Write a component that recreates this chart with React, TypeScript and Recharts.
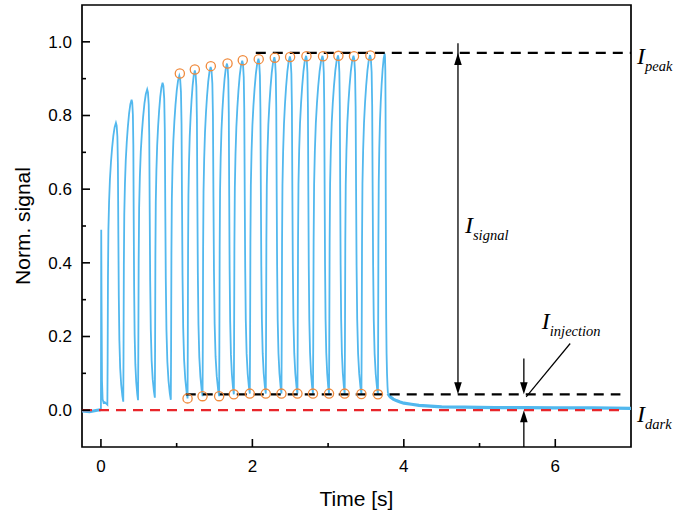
import React from 'react';
import {
  ComposedChart,
  Line,
  Scatter,
  XAxis,
  YAxis,
  ReferenceLine,
  ReferenceDot,
  ReferenceArea,
} from 'recharts';

// pulse maxima and the minima just before each pulse
const PEAK_T = [0.198, 0.405, 0.611, 0.814, 1.035, 1.24, 1.449, 1.664, 1.866, 2.08, 2.29, 2.495, 2.709, 2.926, 3.131, 3.335, 3.554, 3.747];
const PEAK_V = [0.78, 0.843, 0.871, 0.889, 0.908, 0.922, 0.932, 0.941, 0.949, 0.954, 0.958, 0.96, 0.962, 0.962, 0.963, 0.962, 0.964, 0.968];
const TROUGH_T = [0.085, 0.295, 0.49, 0.712, 0.923, 1.144, 1.342, 1.561, 1.755, 1.966, 2.177, 2.384, 2.595, 2.8, 3.012, 3.219, 3.44, 3.658];
const TROUGH_V = [0.015, 0.023, 0.027, 0.034, 0.028, 0.032, 0.038, 0.038, 0.043, 0.045, 0.045, 0.045, 0.045, 0.045, 0.045, 0.045, 0.044, 0.043];

// shape of one pulse: fraction of the interval / fraction of the swing
const RISE_F = [0, 0.03, 0.07, 0.12, 0.2, 0.3, 0.42, 0.55, 0.7, 0.85, 1];
const RISE_L = [0, 0.15, 0.45, 0.62, 0.72, 0.8, 0.86, 0.91, 0.955, 0.985, 1];
const FALL_F = [0, 0.1, 0.2, 0.27, 0.33, 0.39, 0.47, 0.58, 0.72, 0.88, 1];
const FALL_L = [1, 0.99, 0.95, 0.85, 0.6, 0.38, 0.22, 0.12, 0.06, 0.02, 0];

// before the first pulse and the decay after the last one
const PRE_T = [-0.25, -0.15, -0.05, 0];
const PRE_V = [-0.002, -0.004, 0.0, 0.001];
const START_T = [0, 0.004, 0.008, 0.014, 0.022, 0.035, 0.05, 0.07];
const START_V = [0.001, 0.49, 0.3, 0.08, 0.03, 0.02, 0.022, 0.018];
const TAIL_T = [3.79, 3.82, 3.86, 3.9, 3.95, 4.0, 4.1, 4.2, 4.35, 4.5, 4.8, 5.2, 5.6, 6.0, 6.5, 7.0];
const TAIL_V = [0.045, 0.036, 0.03, 0.026, 0.022, 0.019, 0.016, 0.013, 0.011, 0.009, 0.008, 0.007, 0.007, 0.006, 0.006, 0.005];

// fitted peak / injection points
const TOP_CIRCLE_T = [1.042, 1.24, 1.451, 1.672, 1.873, 2.084, 2.296, 2.498, 2.714, 2.933, 3.136, 3.342, 3.558];
const TOP_CIRCLE_V = [0.914, 0.925, 0.934, 0.941, 0.95, 0.953, 0.957, 0.959, 0.961, 0.961, 0.962, 0.961, 0.963];
const BOTTOM_CIRCLE_T = [1.144, 1.342, 1.561, 1.755, 1.966, 2.177, 2.384, 2.595, 2.8, 3.012, 3.219, 3.44, 3.658];
const BOTTOM_CIRCLE_V = [0.032, 0.038, 0.038, 0.043, 0.045, 0.045, 0.045, 0.045, 0.045, 0.045, 0.045, 0.044, 0.043];

const I_PEAK = 0.97;
const I_INJ = 0.043;
const I_DARK = 0;

const X_TICKS = [0, 1, 2, 3, 4, 5, 6];
const Y_TICKS = [0, 0.1, 0.2, 0.3, 0.4, 0.5, 0.6, 0.7, 0.8, 0.9, 1.0];

const BLUE = '#52b8ee';
const ORANGE = '#f08a3c';
const RED = '#e8262b';
const SANS = "'Liberation Sans', Arial, sans-serif";
const SERIF = "'Liberation Serif', 'DejaVu Serif', serif";

const zip = (ts: number[], vs: number[]) => ts.map((t, i) => ({ t, v: vs[i] }));

const trace: { t: number; v: number }[] = zip(START_T, START_V);
PEAK_T.forEach((pt, i) => {
  const t0 = TROUGH_T[i];
  const v0 = TROUGH_V[i];
  const pv = PEAK_V[i];
  RISE_F.forEach((f, k) => trace.push({ t: t0 + f * (pt - t0), v: v0 + RISE_L[k] * (pv - v0) }));
  const t1 = i < PEAK_T.length - 1 ? TROUGH_T[i + 1] : TAIL_T[0];
  const v1 = i < PEAK_T.length - 1 ? TROUGH_V[i + 1] : TAIL_V[0];
  FALL_F.slice(1, -1).forEach((f, k) =>
    trace.push({ t: pt + f * (t1 - pt), v: v1 + FALL_L[k + 1] * (pv - v1) })
  );
});
trace.push({ t: TAIL_T[0], v: TAIL_V[0] });

const pre = zip(PRE_T, PRE_V);
const tail = zip(TAIL_T, TAIL_V);
const topCircles = zip(TOP_CIRCLE_T, TOP_CIRCLE_V);
const bottomCircles = zip(BOTTOM_CIRCLE_T, BOTTOM_CIRCLE_V);
const peakLine = [{ t: 2.045, v: I_PEAK }, { t: 7, v: I_PEAK }];
const injLine = [{ t: 1.12, v: I_INJ }, { t: 6.86, v: I_INJ }];
const darkLine = [{ t: -0.25, v: I_DARK }, { t: 6.86, v: I_DARK }];

const GAP = 10;

const XTick = (props: any) => {
  const { x, y, payload } = props;
  const ay = y - GAP;
  const major = payload.value % 2 === 0;
  return (
    <g>
      <line x1={x} x2={x} y1={ay} y2={ay - (major ? 8 : 4)} stroke="#000" strokeWidth={1.6} />
      {major && (
        <text x={x} y={ay + 25} textAnchor="middle" fontSize={17} fontFamily={SANS} fill="#000">
          {payload.value}
        </text>
      )}
    </g>
  );
};

const YTick = (props: any) => {
  const { x, y, payload } = props;
  const ax = x + GAP;
  const major = Math.round(payload.value * 10) % 2 === 0;
  return (
    <g>
      <line x1={ax} x2={ax + (major ? 8 : 4)} y1={y} y2={y} stroke="#000" strokeWidth={1.6} />
      {major && (
        <text x={x} y={y} dy="0.35em" textAnchor="end" fontSize={17} fontFamily={SANS} fill="#000">
          {payload.value.toFixed(1)}
        </text>
      )}
    </g>
  );
};

const Sym = ({ x, y, sub }: { x: number; y: number; sub: string }) => (
  <text x={x} y={y} fontFamily={SERIF} fontStyle="italic" fill="#000">
    <tspan fontSize={24}>I</tspan>
    <tspan fontSize={14.5} dy={7}>{sub}</tspan>
  </text>
);

const symAt = (dx: number, dy: number, sub: string) => (p: any) => (
  <Sym x={p.cx + dx} y={p.cy + dy} sub={sub} />
);

const arrow = (both: boolean) => (p: any) => {
  const { x1, y1, x2, y2 } = p;
  const len = 12;
  const half = 3.8;
  const head = (tx: number, ty: number, dir: number) => (
    <polygon
      points={`${tx},${ty} ${tx - half},${ty - dir * len} ${tx + half},${ty - dir * len}`}
      fill="#000"
    />
  );
  const d2 = y2 > y1 ? 1 : -1;
  return (
    <g>
      <line x1={x1} y1={both ? y1 - d2 * len * 0.8 : y1} x2={x2} y2={y2 - d2 * len * 0.8} stroke="#000" strokeWidth={1.3} />
      {head(x2, y2, d2)}
      {both && head(x1, y1, -d2)}
    </g>
  );
};

const ring = (p: any) => (
  <circle cx={p.cx} cy={p.cy} r={4.6} fill="none" stroke={ORANGE} strokeWidth={1.3} />
);

export default function App() {
  return (
    <div style={{ position: 'absolute', left: 0, top: 0, background: '#fff' }}>
      <ComposedChart width={675} height={515} margin={{ top: 5, right: 44, bottom: 0, left: 0 }}>
        <XAxis
          type="number"
          dataKey="t"
          domain={[-0.25, 7]}
          ticks={X_TICKS}
          allowDataOverflow
          axisLine={false}
          tickLine={false}
          tickSize={0}
          tickMargin={GAP}
          height={68}
          tick={<XTick />}
          label={{
            content: (p: any) => (
              <text
                x={p.viewBox.x + p.viewBox.width / 2}
                y={p.viewBox.y + 59}
                textAnchor="middle"
                fontSize={21}
                fontFamily={SANS}
                fill="#000"
              >
                Time [s]
              </text>
            ),
          }}
        />
        <YAxis
          type="number"
          dataKey="v"
          domain={[-0.1, 1.1]}
          ticks={Y_TICKS}
          allowDataOverflow
          axisLine={false}
          tickLine={false}
          tickSize={0}
          tickMargin={GAP}
          width={82}
          tick={<YTick />}
          label={{
            content: (p: any) => {
              const cx = 22;
              const cy = p.viewBox.y + p.viewBox.height / 2;
              return (
                <text
                  x={cx}
                  y={cy}
                  transform={`rotate(-90 ${cx} ${cy})`}
                  textAnchor="middle"
                  dominantBaseline="central"
                  fontSize={21}
                  fontFamily={SANS}
                  fill="#000"
                >
                  Norm. signal
                </text>
              );
            },
          }}
        />
        <ReferenceArea x1={-0.25} x2={7} y1={-0.1} y2={1.1} fill="none" stroke="#000" strokeWidth={1.7} fillOpacity={0} />
        <Line data={pre} dataKey="v" stroke={BLUE} strokeWidth={3} dot={false} isAnimationActive={false} />
        <Line data={trace} dataKey="v" stroke={BLUE} strokeWidth={1.8} dot={false} isAnimationActive={false} />
        <Line data={tail} dataKey="v" stroke={BLUE} strokeWidth={3.2} dot={false} isAnimationActive={false} />
        <Line data={darkLine} dataKey="v" stroke={RED} strokeWidth={2.4} strokeDasharray="10 7" dot={false} isAnimationActive={false} />
        <Line data={injLine} dataKey="v" stroke="#000" strokeWidth={2.4} strokeDasharray="10 7" dot={false} isAnimationActive={false} />
        <Line data={peakLine} dataKey="v" stroke="#000" strokeWidth={2.4} strokeDasharray="10 7" dot={false} isAnimationActive={false} />
        <Scatter data={topCircles} dataKey="v" shape={ring} isAnimationActive={false} />
        <Scatter data={bottomCircles} dataKey="v" shape={ring} isAnimationActive={false} />
        <ReferenceLine segment={[{ x: 4.715, y: I_PEAK }, { x: 4.715, y: I_INJ }]} ifOverflow="visible" shape={arrow(true)} />
        <ReferenceLine segment={[{ x: 5.585, y: 0.14 }, { x: 5.585, y: I_INJ }]} ifOverflow="visible" shape={arrow(false)} />
        <ReferenceLine segment={[{ x: 5.585, y: -0.1 }, { x: 5.585, y: I_DARK }]} ifOverflow="visible" shape={arrow(false)} />
        <ReferenceLine
          segment={[{ x: 5.616, y: 0.036 }, { x: 6.197, y: 0.181 }]}
          ifOverflow="visible"
          stroke="#000"
          strokeWidth={1.2}
        />
        <ReferenceDot x={7} y={I_PEAK} r={0} ifOverflow="visible" shape={symAt(6, 11, 'peak')} />
        <ReferenceDot x={7} y={I_DARK} r={0} ifOverflow="visible" shape={symAt(6, 12, 'dark')} />
        <ReferenceDot x={4.715} y={0.5} r={0} ifOverflow="visible" shape={symAt(7, 7, 'signal')} />
        <ReferenceDot x={5.585} y={0.14} r={0} ifOverflow="visible" shape={symAt(18, -30, 'injection')} />
      </ComposedChart>
    </div>
  );
}
